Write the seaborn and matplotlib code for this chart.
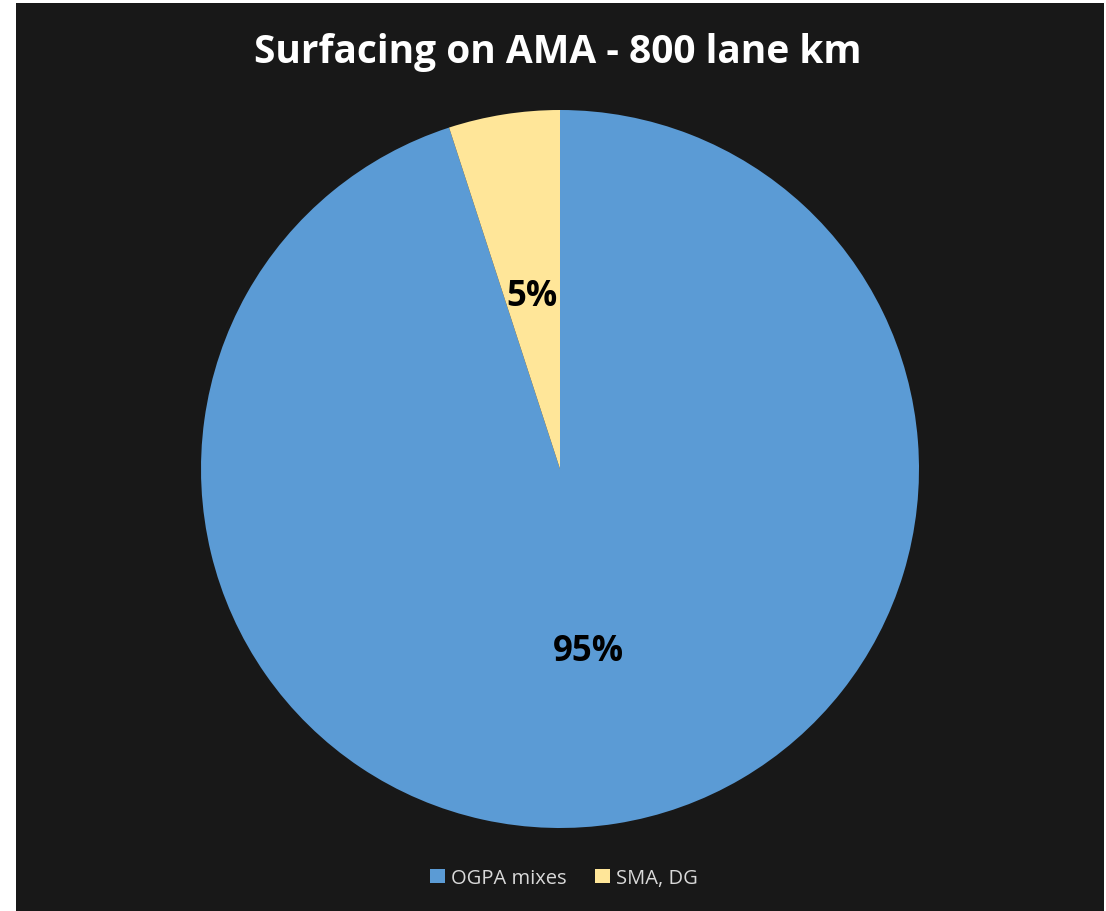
import matplotlib
matplotlib.use("Agg")
import matplotlib.pyplot as plt
from matplotlib.patches import Rectangle
import seaborn as sns

categories = ["OGPA mixes", "SMA, DG"]
shares = [95, 5]
colors = ["#5B9BD5", "#FFE699"]
title = "Surfacing on AMA - 800 lane km"

sns.set_theme(style="white")
plt.rcParams["font.family"] = ["Open Sans", "DejaVu Sans"]

W, H = 1106, 912
fig = plt.figure(figsize=(W / 100, H / 100), dpi=100, facecolor="white")
fig.patches.append(Rectangle((16 / W, 0), (1104 - 16) / W, (912 - 4) / H,
                             transform=fig.transFigure, facecolor="#181818",
                             edgecolor="none", zorder=-10))

cx, cy, r = 560, 470, 359
ax = fig.add_axes([(cx - r) / W, (H - cy - r) / H, 2 * r / W, 2 * r / H])
ax.set_facecolor("none")
ax.set_zorder(5)
wedges, texts, autotexts = ax.pie(
    shares, colors=colors, startangle=90, counterclock=False,
    autopct=lambda p: f"{p:.0f}%", pctdistance=0.5,
    wedgeprops=dict(linewidth=0),
    textprops=dict(color="black", fontsize=25, fontweight="bold"))
for t in autotexts:
    t.set_va("center_baseline")
ax.set_xlim(-1, 1)
ax.set_ylim(-1, 1)
ax.set_aspect("equal")

fig.text(558 / W, 1 - 52 / H, title, ha="center", va="center", color="white",
         fontsize=28, fontweight="bold", zorder=6)

leg = fig.legend(wedges, categories, loc="center", bbox_to_anchor=(564 / W, 1 - 879 / H),
                 ncol=2, frameon=False, fontsize=14.5, handlelength=0.75, handleheight=0.75,
                 handletextpad=0.3, columnspacing=1.4)
leg.set_zorder(6)
for t in leg.get_texts():
    t.set_color("#D9D9D9")

fig.savefig("out.png", dpi=100, facecolor=fig.get_facecolor())
